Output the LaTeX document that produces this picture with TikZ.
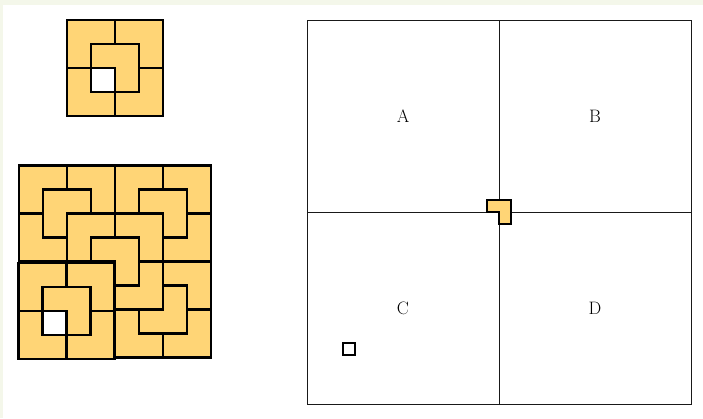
\documentclass[tikz,border=0pt]{standalone}
\definecolor{tilefill}{RGB}{255,213,118}
\definecolor{bgtint}{RGB}{244,247,234}
\definecolor{framecol}{RGB}{25,25,25}
\tikzset{
  tile/.style={draw=black, fill=tilefill, line width=2.6pt, line join=miter},
  holecell/.style={draw=black, fill=white, line width=2.6pt},
  frameline/.style={draw=framecol, line width=0.9pt},
  markbox/.style={draw=black, fill=white, line width=1.1pt},
  lbl/.style={font=\fontsize{18}{21}\selectfont, inner sep=0pt}
}
\newcommand\tromBR[2]{\path[tile] (#1,#2) -- ++(2,0) -- ++(0,1) -- ++(-1,0) -- ++(0,1) -- ++(-1,0) -- cycle;}
\newcommand\tromBL[2]{\path[tile] (#1,#2) -- ++(2,0) -- ++(0,2) -- ++(-1,0) -- ++(0,-1) -- ++(-1,0) -- cycle;}
\newcommand\tromTR[2]{\path[tile] (#1,#2) -- ++(1,0) -- ++(0,1) -- ++(1,0) -- ++(0,1) -- ++(-2,0) -- cycle;}
\newcommand\tromTL[2]{\path[tile] (#1+1,#2) -- ++(1,0) -- ++(0,2) -- ++(-2,0) -- ++(0,-1) -- ++(1,0) -- cycle;}
\newcommand\holequad{\tromBR{0}{0}\tromBL{2}{0}\tromTR{0}{2}\tromTL{2}{2}\tromBL{1}{1}\path[holecell] (1,2) rectangle (2,3);}
\begin{document}
\begin{tikzpicture}[x=1pt,y=-1pt]
\useasboundingbox (0,0) rectangle (703,418);
\fill[bgtint] (0,0) rectangle (703,418);
\fill[white] (3,5) rectangle (703,418);
% small 4x4 board
\begin{scope}[shift={(67,20)}, x=24pt, y=-24pt]
  \holequad
\end{scope}
% big 8x8 board
\begin{scope}[shift={(19,165.5)}, x=24pt, y=-24pt]
  % top-left quadrant
  \tromBR{0}{0}\tromBL{2}{0}\tromTR{0}{2}\tromBR{2}{2}\tromBR{1}{1}
  % top-right quadrant
  \tromBR{4}{0}\tromBL{6}{0}\tromBL{4}{2}\tromTL{6}{2}\tromBL{5}{1}
  % bottom-right quadrant
  \tromTL{4}{4}\tromBL{6}{4}\tromTR{4}{6}\tromTL{6}{6}\tromTL{5}{5}
  % centre tromino
  \tromBL{3}{3}
\end{scope}
\begin{scope}[shift={(18.5,263)}, x=24pt, y=-24pt]
  \holequad
\end{scope}
% right frame
\coordinate (fTL) at (307,20);
\coordinate (fBR) at (691,404);
\coordinate (mT) at (499,20);
\coordinate (mB) at (499,404);
\coordinate (mL) at (307,212);
\coordinate (mR) at (691,212);
\draw[frameline] (fTL) rectangle (fBR);
\draw[frameline] (mT) -- (mB);
\draw[frameline] (mL) -- (mR);
\begin{scope}[shift={(487,200)}, x=12pt, y=-12pt]
  \tromBL{0}{0}
\end{scope}
\path[markbox] (343,343) rectangle (355,355);
\node[lbl] (labA) at (403,116) {A};
\node[lbl] (labB) at (595,116) {B};
\node[lbl] (labC) at (403,308) {C};
\node[lbl] (labD) at (595,308) {D};
\end{tikzpicture}
\end{document}
